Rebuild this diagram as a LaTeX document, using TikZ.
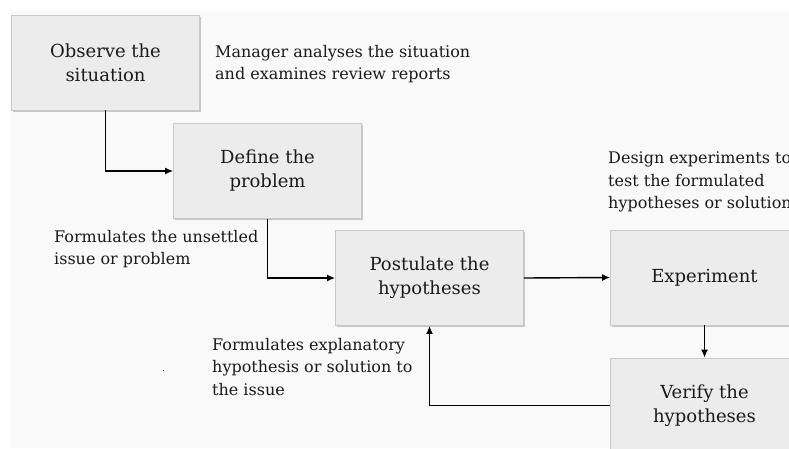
\documentclass[tikz,border=0pt]{standalone}
\usepackage{fontspec}
\setmainfont{DejaVu Serif}
\usetikzlibrary{arrows.meta,shadows}
\definecolor{pagebg}{HTML}{F9F9F9}
\definecolor{boxfill}{HTML}{ECECEC}
\definecolor{boxline}{HTML}{C8C8C8}
\definecolor{ink}{HTML}{1A1A1A}
\begin{document}
\begin{tikzpicture}[x=1pt,y=-1pt,
  stepbox/.style={draw=boxline, line width=0.8pt, fill=boxfill,
    minimum width=188pt, minimum height=95pt, inner sep=0pt,
    align=center, text=ink, font=\fontsize{18}{24}\selectfont,
    drop shadow={shadow xshift=1.8pt, shadow yshift=-1.8pt, fill=black!35, opacity=0.6}},
  note/.style={anchor=north west, inner sep=0pt, align=left, text=ink,
    font=\fontsize{16}{22.5}\selectfont},
  flow/.style={line width=1.4pt, -{Latex[length=8pt,width=7pt]}}]
  % canvas
  \clip (0,0) rectangle (789,448);
  \fill[white] (0,0) rectangle (789,448);
  \fill[pagebg] (11,11) rectangle (789,448);

  % process steps
  \node[stepbox] (obs) at (105.5,62.5) {Observe the\\situation};
  \node[stepbox] (def) at (267.5,171) {Define the\\problem};
  \node[stepbox] (pos) at (429.5,278) {Postulate the\\hypotheses};
  \node[stepbox] (exp) at (704.5,277.5) {Experiment};
  \node[stepbox] (ver) at (704.5,405.5) {Verify the\\hypotheses};

  % explanations
  \node[note] (n1) at (215,45) {Manager analyses the situation\\and examines review reports};
  \node[note] (n2) at (608,152) {Design experiments to\\test the formulated\\hypotheses or solutions};
  \node[note] (n3) at (54,230) {Formulates the unsettled\\issue or problem};
  \node[note] (n4) at (212,338) {Formulates explanatory\\hypothesis or solution to\\the issue};

  % connectors
  \draw[flow] (obs.south) |- (def.west);
  \draw[flow] (def.south) |- (pos.west);
  \draw[flow] (pos.east) -- (exp.west);
  \draw[flow] (exp.south) -- (ver.north);
  \draw[flow] (ver.west) -| (pos.south);

  % stray mark
  \fill[black] (162.5,369.5) rectangle (164,371);
\end{tikzpicture}
\end{document}
